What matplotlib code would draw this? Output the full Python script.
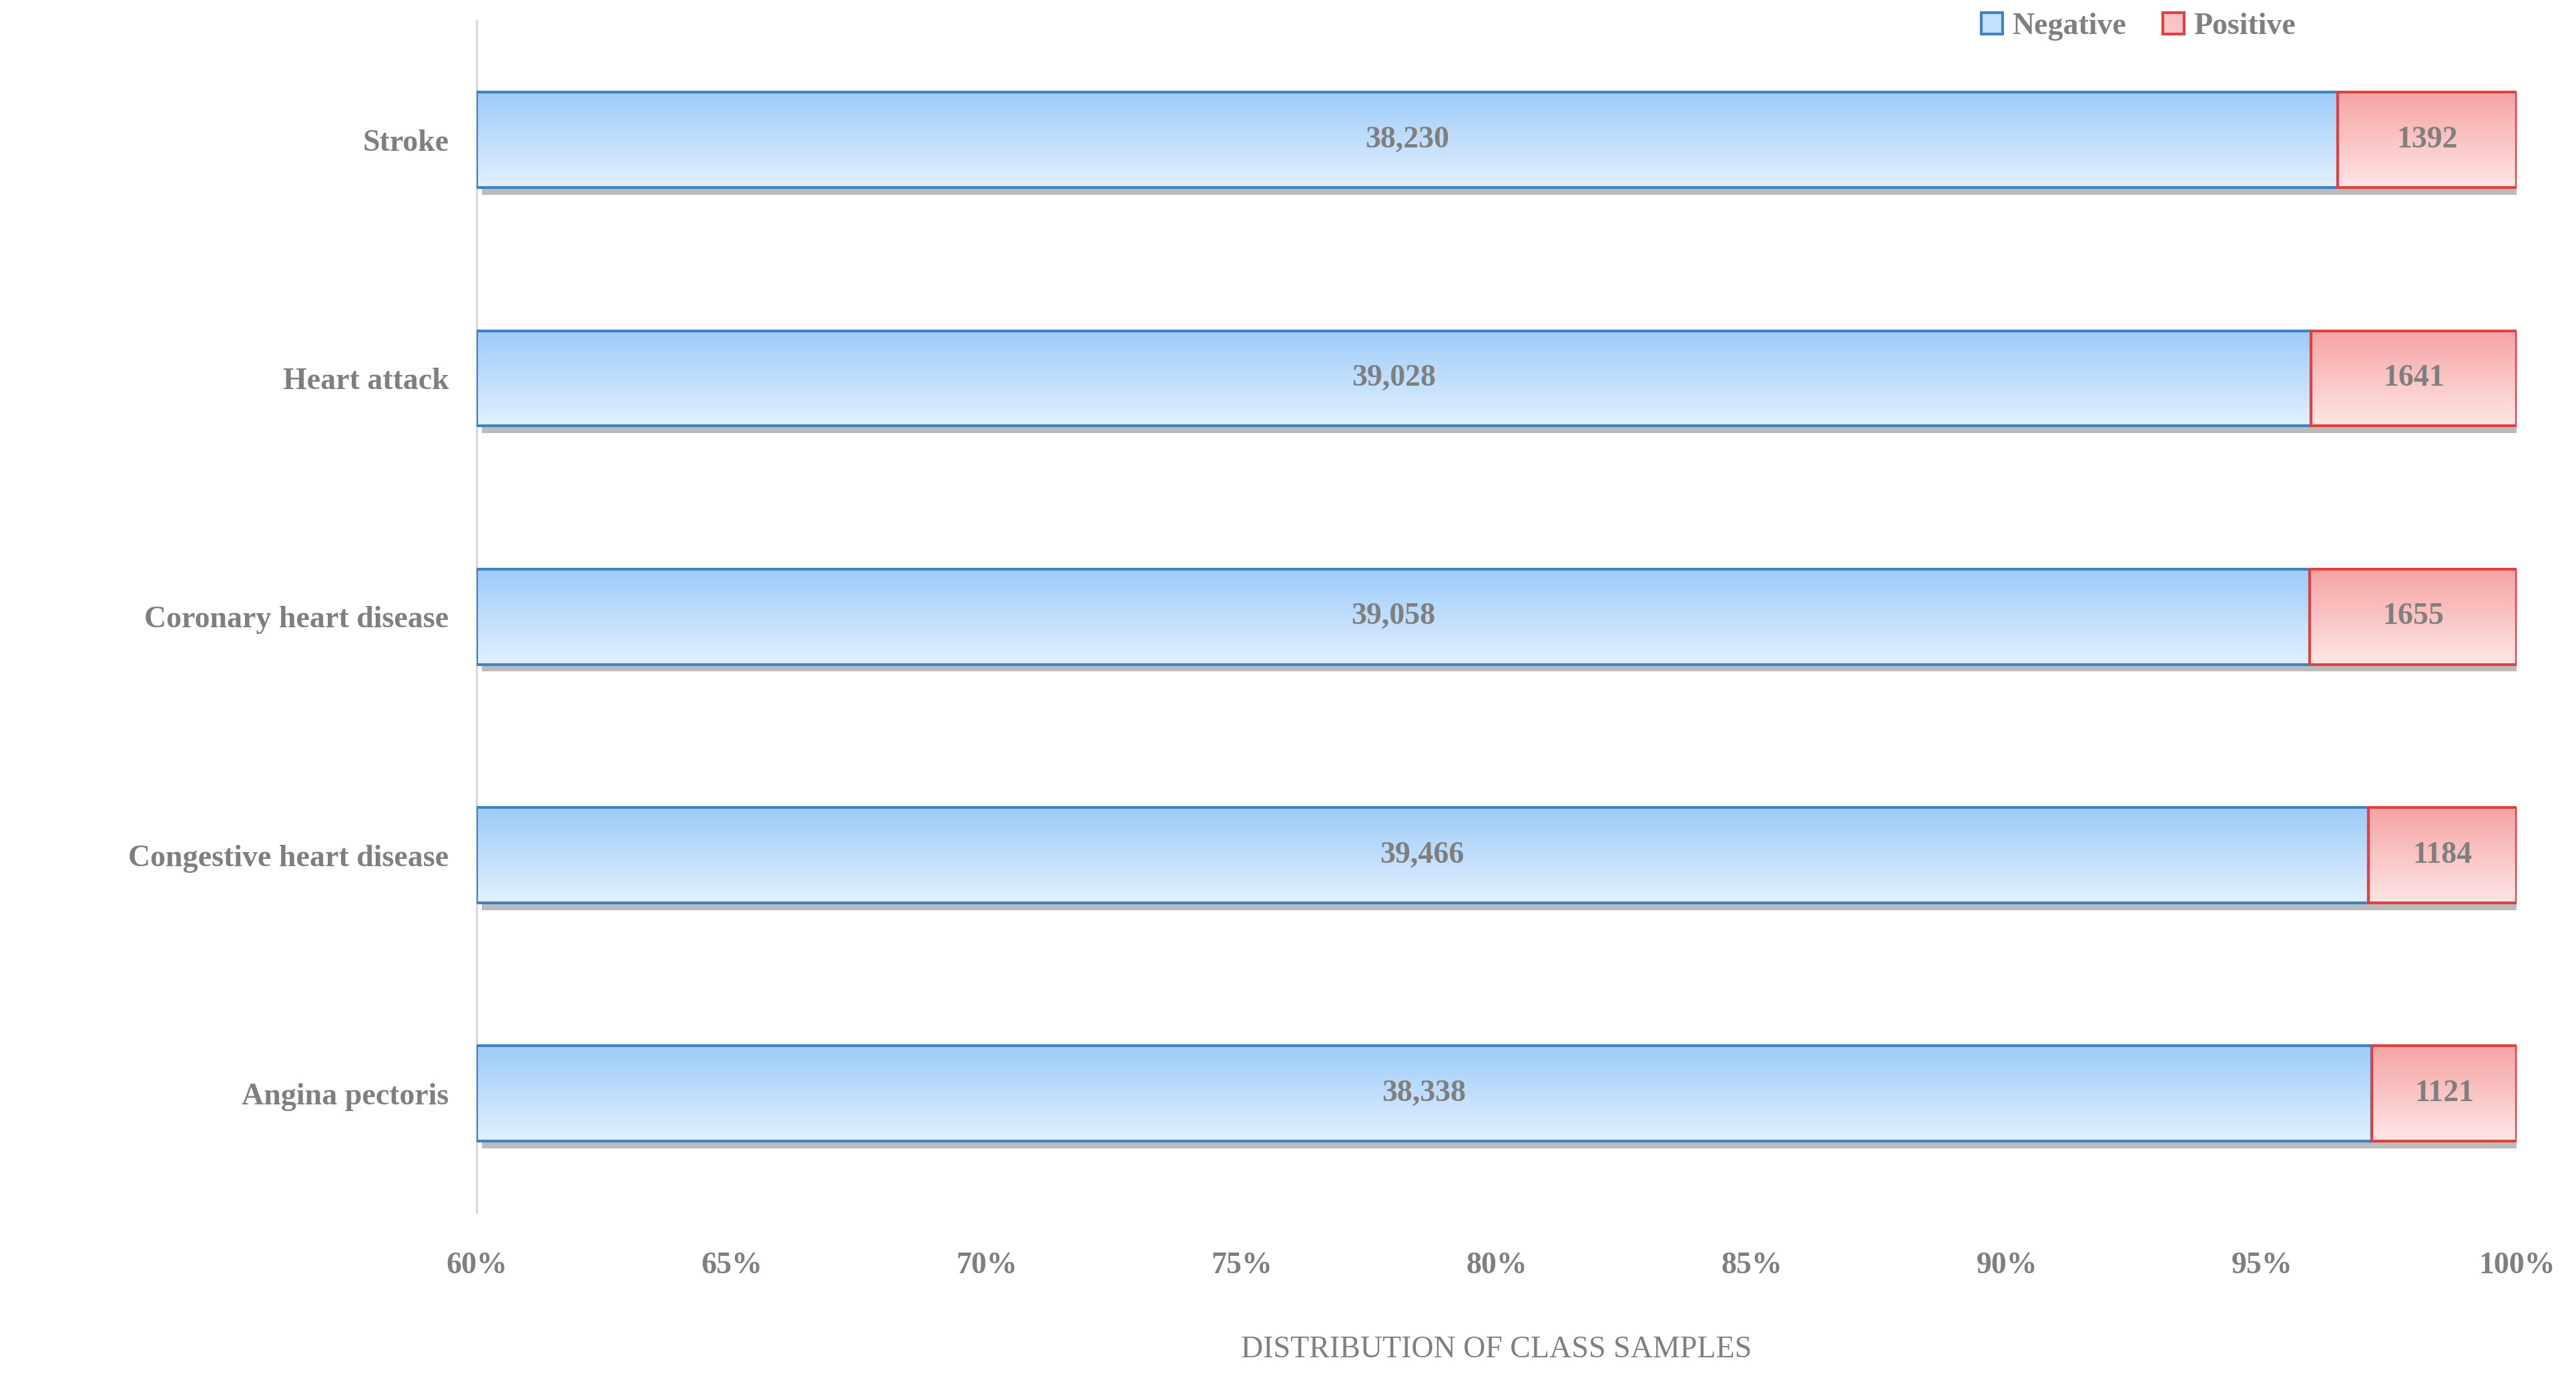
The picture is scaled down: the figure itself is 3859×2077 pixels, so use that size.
import numpy as np
import matplotlib.pyplot as plt
from matplotlib.colors import LinearSegmentedColormap
import matplotlib.patches as mpatches

categories = ["Angina pectoris", "Congestive heart disease", "Coronary heart disease",
              "Heart attack", "Stroke"]
negative = [38338, 39466, 39058, 39028, 38230]
positive = [1121, 1184, 1655, 1641, 1392]
xticks = [60, 65, 70, 75, 80, 85, 90, 95, 100]

plt.rcParams['font.family'] = ['Liberation Serif', 'DejaVu Serif']
plt.rcParams['font.weight'] = 'bold'
gray = '#7f7f7f'

fig = plt.figure(figsize=(3859 / 300, 2077 / 300), dpi=300)
ax = fig.add_axes([0.185, 0.125, 0.792, 0.86])

blue_cm = LinearSegmentedColormap.from_list('b', ['#e3f1ff', '#9dcbf8'])
red_cm = LinearSegmentedColormap.from_list('r', ['#ffe6e6', '#f5a3a3'])
grad = np.linspace(0, 1, 256).reshape(-1, 1)

h = 0.4
for i, (n, p) in enumerate(zip(negative, positive)):
    tot = n + p
    npct = n / tot * 100
    for x0, x1, cm, ec in [(60, npct, blue_cm, '#3c82c4'), (npct, 100, red_cm, '#e0403f')]:
        # shadow
        ax.add_patch(mpatches.Rectangle((x0 + 0.1, i - h / 2 - 0.03), x1 - x0, h,
                                        facecolor='#bbbbbb', edgecolor='none', zorder=1))
        im = ax.imshow(grad, cmap=cm, aspect='auto', extent=(x0, x1, i + h / 2, i - h / 2),
                       zorder=2, interpolation='bicubic')
        rect = mpatches.Rectangle((x0, i - h / 2), x1 - x0, h, facecolor='none',
                                  edgecolor=ec, linewidth=1.0, zorder=3)
        ax.add_patch(rect)
        im.set_clip_path(rect)
    ax.text((60 + npct) / 2, i, f"{n:,}", ha='center', va='center', color=gray,
            fontsize=11, fontweight='bold', zorder=4)
    ax.text((npct + 100) / 2, i, f"{p}", ha='center', va='center', color=gray,
            fontsize=11, fontweight='bold', zorder=4)

ax.set_xlim(60, 100)
ax.set_ylim(-0.5, 4.5)
ax.set_yticks(range(len(categories)))
ax.set_yticklabels(categories)
ax.set_xticks(xticks)
ax.set_xticklabels([f"{t}%" for t in xticks])
ax.tick_params(length=0, labelsize=11, colors=gray, pad=10)
ax.tick_params(axis='x', pad=14)
for s in ['top', 'right', 'bottom']:
    ax.spines[s].set_visible(False)
ax.spines['left'].set_color('#d9d9d9')
ax.set_xlabel("DISTRIBUTION OF CLASS SAMPLES", color=gray, fontsize=11, labelpad=20)

handles = [mpatches.Patch(facecolor='#c5e1fc', edgecolor='#3c82c4', label='Negative'),
           mpatches.Patch(facecolor='#fbc4c4', edgecolor='#e0403f', label='Positive')]
leg = ax.legend(handles=handles, loc='upper right', bbox_to_anchor=(0.905, 1.03), ncol=2,
                frameon=False, fontsize=11, handlelength=0.7, handleheight=0.7,
                handletextpad=0.3, columnspacing=1.2)
for t in leg.get_texts():
    t.set_color(gray)

fig.savefig('out.png', dpi=300, facecolor='white')
